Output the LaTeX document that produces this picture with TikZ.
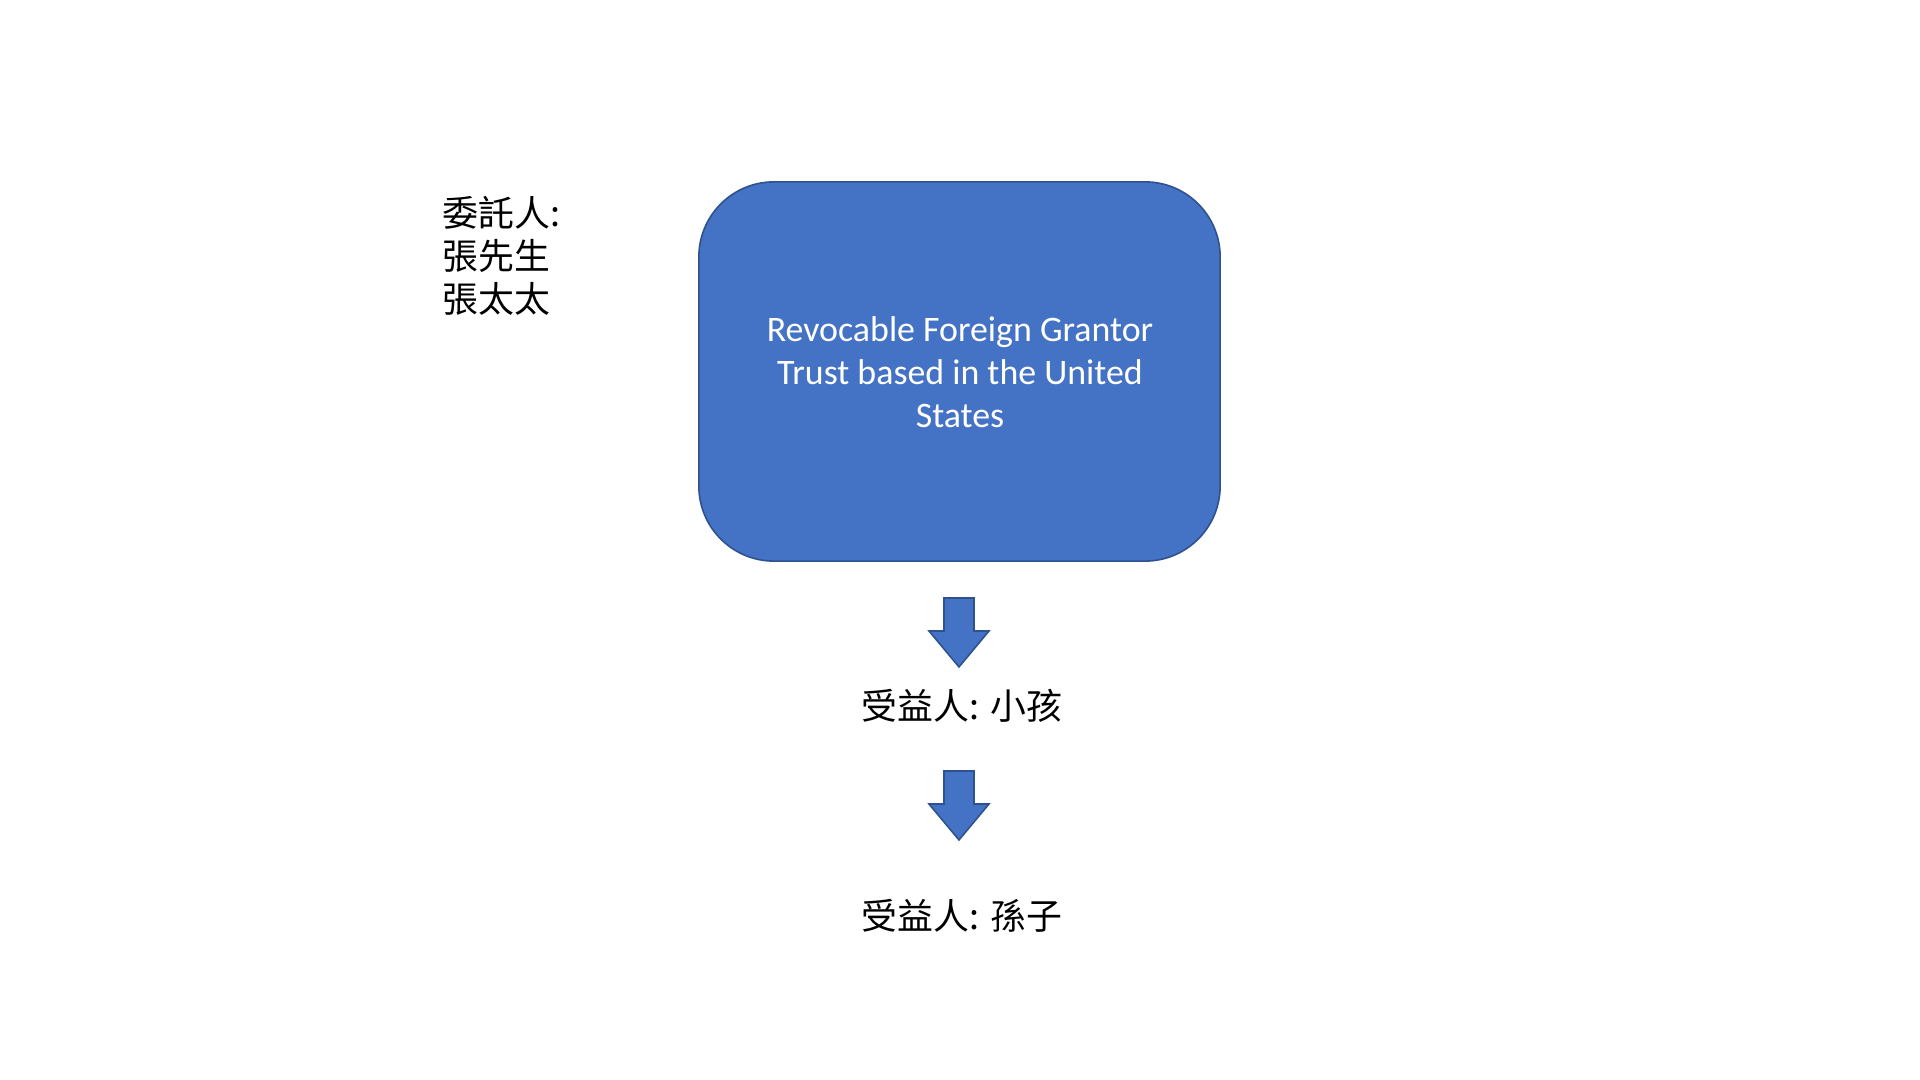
\documentclass[tikz,border=0pt]{standalone}
\usepackage{fontspec}
\usetikzlibrary{calc}
\setmainfont{Carlito}
\newfontfamily\cjk{Noto Sans CJK TC}
\definecolor{boxfill}{HTML}{4472C4}
\definecolor{boxline}{HTML}{2F528F}
\begin{document}
\begin{tikzpicture}[x=0.01cm,y=-0.01cm,
  trustbox/.style={draw=boxline,fill=boxfill,line width=0.45pt,rounded corners=0.75cm,
    minimum width=5.21cm,minimum height=3.79cm,inner sep=0pt},
  boxtext/.style={text=white,font=\fontsize{10.2pt}{12.3pt}\selectfont,align=center},
  cjktext/.style={font=\cjk\fontsize{10.2pt}{12.3pt}\selectfont,text=black,inner sep=0pt},
  blockarrow/.style={draw=boxline,fill=boxfill,line width=0.45pt,line join=miter}]
\useasboundingbox (0,0) rectangle (1920,1080);
\node[trustbox] (trust) at (959.5,371.5) {};
\node[boxtext] (trusttext) at (960,372) {Revocable Foreign Grantor\\Trust based in the United\\States};
\node[cjktext,align=left,anchor=west] (grantor) at (442,256) {委託人:\\張先生\\張太太};
\node[cjktext] (child) at (962,706) {受益人: 小孩};
\node[cjktext] (grand) at (962,916) {受益人: 孫子};
% block arrows
\coordinate (a1) at (959,598);
\draw[blockarrow] ($(a1)+(-15,0)$) -- ($(a1)+(15,0)$) -- ($(a1)+(15,33)$) -- ($(a1)+(30,33)$)
  -- ($(a1)+(0,69)$) -- ($(a1)+(-30,33)$) -- ($(a1)+(-15,33)$) -- cycle;
\coordinate (a2) at (959,771);
\draw[blockarrow] ($(a2)+(-15,0)$) -- ($(a2)+(15,0)$) -- ($(a2)+(15,33)$) -- ($(a2)+(30,33)$)
  -- ($(a2)+(0,69)$) -- ($(a2)+(-30,33)$) -- ($(a2)+(-15,33)$) -- cycle;
\end{tikzpicture}
\end{document}
